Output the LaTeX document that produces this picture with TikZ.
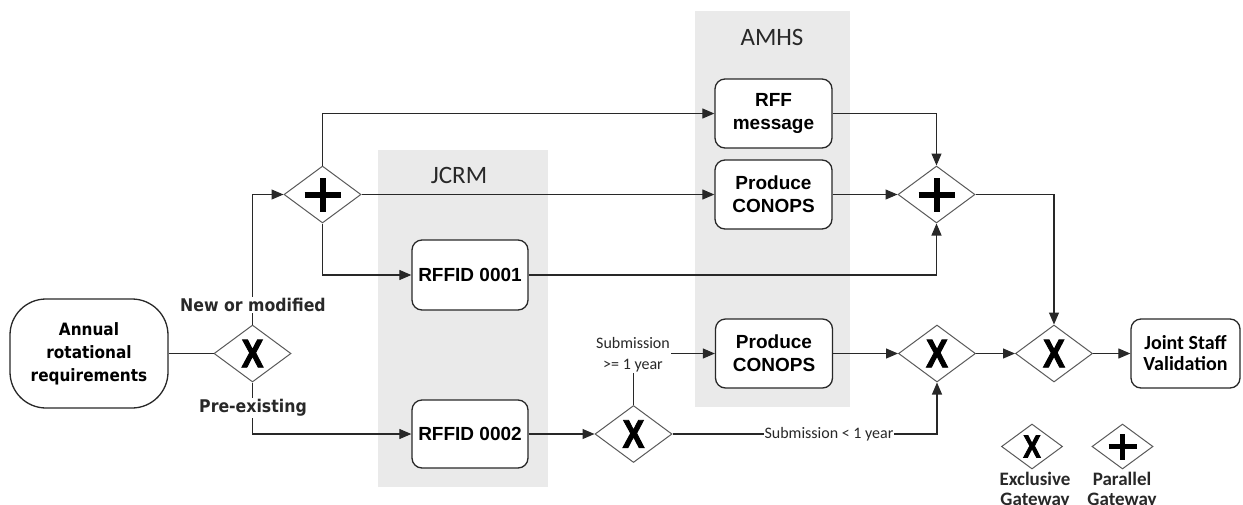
\documentclass[tikz,border=0pt]{standalone}
\usepackage{fontspec}
\setmainfont{Liberation Sans}
\newfontfamily\calfont{Carlito}
\newfontfamily\tahfont{DejaVu Sans}[FakeStretch=0.9]
\newfontfamily\xfont{Liberation Sans Bold}[FakeStretch=0.82, FakeBold=2.2]
\usetikzlibrary{shapes.geometric,arrows.meta}
\definecolor{poolc}{RGB}{234,234,234}
\definecolor{ln}{RGB}{40,40,40}
\definecolor{gw}{RGB}{90,90,90}
\tikzset{
 poolbox/.style={fill=poolc, draw=none, inner sep=0pt},
 pooltitle/.style={font=\calfont\fontsize{25}{25}\selectfont, text=ln},
 task/.style={draw=ln, line width=1.3pt, rounded corners=10pt, fill=white,
   minimum width=117pt, minimum height=69pt, align=center, inner sep=2pt,
   font=\bfseries\fontsize{19}{23}\selectfont},
 gate/.style={draw=gw, line width=1pt, diamond, minimum width=77pt,
   minimum height=57pt, inner sep=0pt, fill=white},
 xgate/.style={gate, label={[font=\xfont\fontsize{40}{40}\selectfont, inner sep=0pt]center:X}},
 pgate/.style={gate, path picture={\draw[line width=6pt, black]
   ([xshift=-18pt]path picture bounding box.center) -- ([xshift=18pt]path picture bounding box.center)
   ([yshift=-17pt]path picture bounding box.center) -- ([yshift=17pt]path picture bounding box.center);}},
 lgate/.style={draw=gw, line width=1pt, diamond, minimum width=61pt,
   minimum height=45pt, inner sep=0pt, fill=white},
 lxgate/.style={lgate, label={[font=\xfont\fontsize{32}{32}\selectfont, inner sep=0pt]center:X}},
 lpgate/.style={lgate, path picture={\draw[line width=5pt, black]
   ([xshift=-14pt]path picture bounding box.center) -- ([xshift=14pt]path picture bounding box.center)
   ([yshift=-13pt]path picture bounding box.center) -- ([yshift=13pt]path picture bounding box.center);}},
 flow/.style={draw=ln, line width=1.1pt, -{Triangle[length=12pt,width=10pt]}},
 plain/.style={draw=ln, line width=1.1pt},
 condlbl/.style={fill=white, inner sep=1pt, font=\tahfont\bfseries\fontsize{17.5}{21}\selectfont, text=ln},
 sublbl/.style={fill=white, inner sep=1pt, align=center, font=\calfont\fontsize{16}{21}\selectfont, text=ln},
 leglbl/.style={align=center, inner sep=0pt, font=\calfont\bfseries\fontsize{19}{20}\selectfont, text=ln}
}
\begin{document}
\begin{tikzpicture}[x=1pt,y=-1pt]
\clip (0,0) rectangle (1243,504);
\fill[white] (0,0) rectangle (1243,504);
% pools
\node[poolbox, minimum width=170pt, minimum height=337pt] (jcrmpool) at (463,318.5) {};
\node[poolbox, minimum width=155pt, minimum height=396pt] (amhspool) at (772.5,209) {};
\node[pooltitle] (jcrmlbl) at (459,175) {JCRM};
\node[pooltitle] (amhslbl) at (772,37) {AMHS};
% tasks
\node[draw=ln, line width=1.3pt, rounded corners=36pt, fill=white, minimum width=158pt,
  minimum height=109pt, align=center, font=\tahfont\bfseries\fontsize{17}{23}\selectfont]
  (annual) at (89,353.5) {Annual\\rotational\\requirements};
\node[task] (rff) at (773.5,113.5) {RFF\\message};
\node[task] (conops1) at (773.5,194.5) {Produce\\CONOPS};
\node[task] (conops2) at (774,353.5) {Produce\\CONOPS};
\node[task, minimum width=116pt, minimum height=70pt] (rffid1) at (470,275) {RFFID 0001};
\node[task, minimum width=116pt, minimum height=68pt] (rffid2) at (470,434) {RFFID 0002};
\node[task, minimum width=109pt, font=\calfont\bfseries\fontsize{20}{21}\selectfont] (jsv) at (1185.5,353.5) {Joint Staff\\Validation};
% gateways
\node[xgate] (g1) at (252.5,353.5) {};
\node[pgate] (p1) at (322.5,194.5) {};
\node[pgate] (p2) at (936.5,194.5) {};
\node[xgate] (x2) at (633.5,434) {};
\node[xgate] (x3a) at (937,353.5) {};
\node[xgate] (x3b) at (1054,353.5) {};
% flows
\draw[plain] (annual.east) -- (g1.west);
\draw[flow] (g1.north) |- (p1.west);
\draw[flow] (g1.south) |- (rffid2.west);
\draw[flow] (p1.north) |- (rff.west);
\draw[flow] (p1.east) -- (conops1.west);
\draw[flow] (p1.south) |- (rffid1.west);
\draw[flow] (rff.east) -| (p2.north);
\draw[flow] (conops1.east) -- (p2.west);
\draw[flow] (rffid1.east) -| (p2.south);
\draw[flow] (p2.east) -| (x3b.north);
\draw[flow] (rffid2.east) -- (x2.west);
\draw[flow] (x2.north) |- (conops2.west);
\draw[flow] (x2.east) -| (x3a.south);
\draw[flow] (conops2.east) -- (x3a.west);
\draw[flow] (x3a.east) -- (x3b.west);
\draw[flow] (x3b.east) -- (jsv.west);
% labels
\node[condlbl] (newlbl) at (253,305) {New or modified};
\node[condlbl] (prelbl) at (253,408) {Pre-existing};
\node[sublbl] (subge) at (633,355) {Submission\\>= 1 year};
\node[sublbl] (sublt) at (829,434) {Submission < 1 year};
% legend
\node[lxgate] (legx) at (1032,446.5) {};
\node[lpgate] (legp) at (1122.5,446.5) {};
\node[leglbl, anchor=north] (legxl) at (1035,472) {Exclusive\\Gateway};
\node[leglbl, anchor=north] (legpl) at (1122,472) {Parallel\\Gateway};
\end{tikzpicture}
\end{document}
